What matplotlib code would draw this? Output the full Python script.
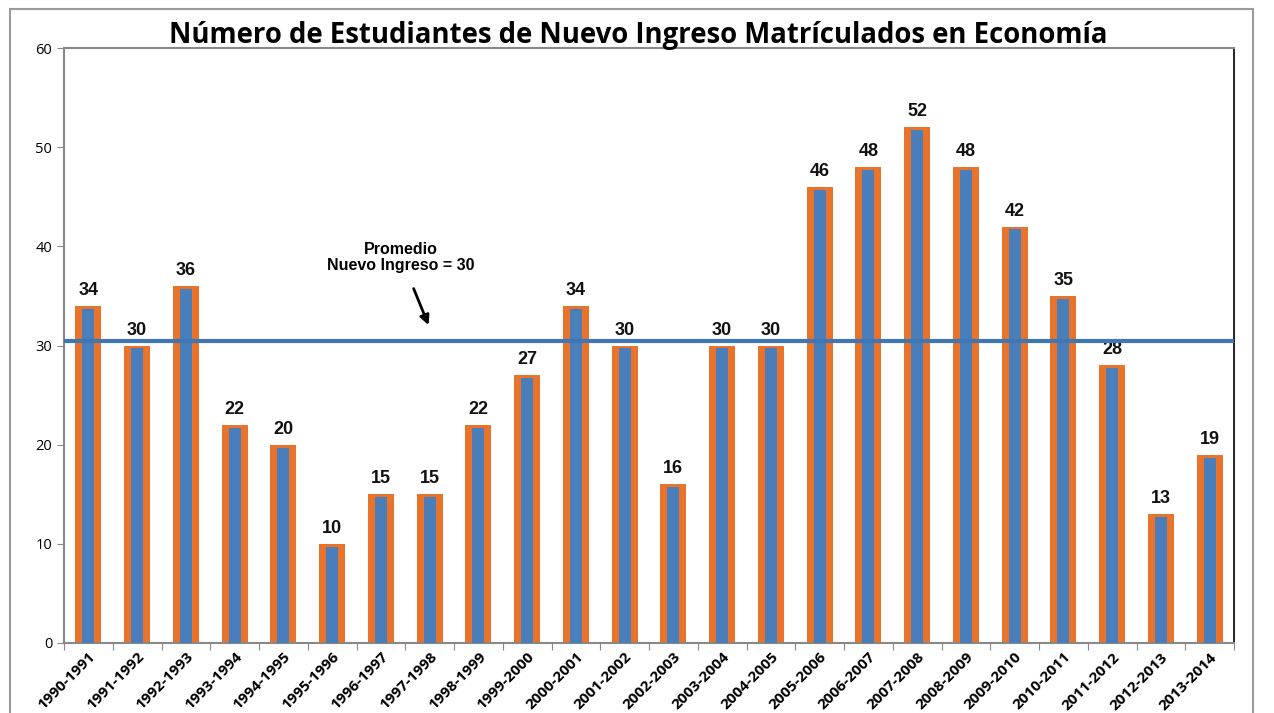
import matplotlib
matplotlib.use("Agg")
import matplotlib.pyplot as plt
from matplotlib.patches import Rectangle
from matplotlib.transforms import ScaledTranslation

categories = ["1990-1991", "1991-1992", "1992-1993", "1993-1994", "1994-1995", "1995-1996",
              "1996-1997", "1997-1998", "1998-1999", "1999-2000", "2000-2001", "2001-2002",
              "2002-2003", "2003-2004", "2004-2005", "2005-2006", "2006-2007", "2007-2008",
              "2008-2009", "2009-2010", "2010-2011", "2011-2012", "2012-2013", "2013-2014"]
values = [34, 30, 36, 22, 20, 10, 15, 15, 22, 27, 34, 30, 16, 30, 30, 46, 48, 52, 48, 42, 35, 28, 13, 19]
average_line = 30.5
yticks = [0, 10, 20, 30, 40, 50, 60]

orange = "#E9732A"
blue = "#4A7EBB"

fig = plt.figure(figsize=(12.74, 7.13), dpi=100)
fig.patches.append(Rectangle((10/1274, -0.1), (1253-10)/1274, 1.1 - 9/713, transform=fig.transFigure,
                             fill=False, edgecolor="#9a9a9a", linewidth=1.5))
ax = fig.add_axes([64/1274, 1 - 643/713, (1234-64)/1274, (643-48)/713])

x = list(range(len(categories)))
ax.bar(x, values, width=0.53, color=orange, zorder=2)
ax.bar(x, [v - 0.3 for v in values], width=0.25, color=blue, zorder=3)
for xi, v in zip(x, values):
    ax.text(xi, v + 0.7, str(v), ha="center", va="bottom", fontsize=13, fontweight="bold",
            family="Liberation Sans", color="#111111")

ax.axhline(average_line, color="#3F76B5", linewidth=3, zorder=4)
ax.text(6.4, 38.9, "Promedio\nNuevo Ingreso = 30", ha="center", va="center", fontsize=11.5,
        fontweight="bold", family="Liberation Sans", linespacing=1.1)
ax.annotate("", xy=(7.0, 31.8), xytext=(6.65, 36.0),
            arrowprops=dict(arrowstyle="-|>", color="black", lw=2, mutation_scale=14))

ax.set_xlim(-0.5, len(categories) - 0.5)
ax.set_ylim(0, 60)
ax.set_yticks(yticks)
ax.set_yticklabels([str(t) for t in yticks], fontsize=10.5, family="Open Sans")
ax.set_xticks([i - 0.5 for i in range(len(categories) + 1)], minor=False)
ax.set_xticklabels([""] * (len(categories) + 1))
ax.set_xticks(x, minor=True)
ax.set_xticklabels(categories, minor=True, rotation=45, ha="right", rotation_mode="anchor",
                   fontsize=11, fontweight="bold", family="Open Sans")
offset = ScaledTranslation(10/100, 0, fig.dpi_scale_trans)
for lab in ax.get_xticklabels(minor=True):
    lab.set_transform(lab.get_transform() + offset)
ax.tick_params(axis="x", which="minor", length=0, pad=5)
ax.tick_params(axis="x", which="major", length=5, color="#888888", direction="out")
ax.tick_params(axis="y", length=5, color="#888888", direction="out")
for side in ["left", "top", "bottom"]:
    ax.spines[side].set_color("#888888")
    ax.spines[side].set_linewidth(1.5)
ax.spines["right"].set_color("black")
ax.spines["right"].set_linewidth(1.2)

fig.text(638/1274, 1 - 35/713, "Número de Estudiantes de Nuevo Ingreso Matrículados en Economía",
         ha="center", va="center", fontsize=19.8, fontweight="bold", family="Open Sans")

fig.savefig("out.png", dpi=100)
